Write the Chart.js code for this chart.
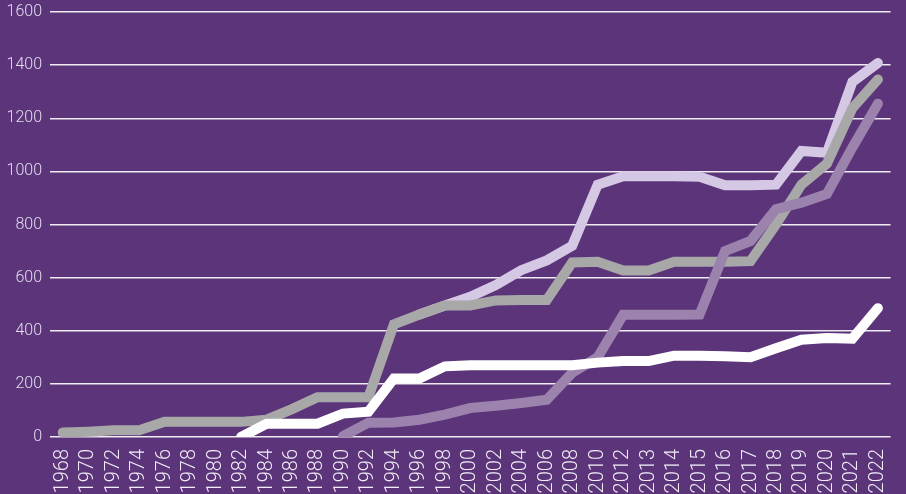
<!DOCTYPE html>
<html>
<head>
<meta charset="utf-8">
<script src="https://cdn.jsdelivr.net/npm/chart.js@4"></script>
<style>
  html, body { margin: 0; padding: 0; background: #5b3479; overflow: hidden; }
  #wrap { position: relative; width: 906px; height: 494px; }
</style>
</head>
<body>
<div id="wrap"><canvas id="chart"></canvas></div>
<script>
const years = ['1968', '1970', '1972', '1974', '1976', '1978', '1980', '1982', '1984', '1986', '1988', '1990',
  '1992', '1994', '1996', '1998', '2000', '2002', '2004', '2006', '2008', '2010', '2012', '2013', '2014',
  '2015', '2016', '2017', '2018', '2019', '2020', '2021', '2022'];

const lavender = [null, null, null, null, null, null, null, null, null, null, null, null,
  null, null, 461, 495, 528, 572, 628, 665, 720, 950, 982, 982, 982,
  980, 948, 948, 950, 1077, 1070, 1337, 1408];

const grey = [17, 20, 25, 25, 57, 57, 57, 57, 65, 105, 150, 150,
  150, 424, 461, 495, 495, 514, 516, 516, 657, 660, 627, 627, 660,
  660, 660, 662, 800, 950, 1029, 1238, 1346];

const mauve = [null, null, null, null, null, null, null, null, null, null, null, 3,
  54, 55, 65, 84, 109, 118, 128, 140, 242, 300, 460, 460, 460,
  461, 700, 738, 858, 882, 915, 1090, 1255];

const white = [null, null, null, null, null, null, null, 0, 50, 50, 50, 88,
  95, 220, 220, 266, 270, 270, 270, 270, 270, 280, 286, 286, 306,
  306, 304, 300, 334, 366, 373, 370, 485];

const yTicks = [0, 200, 400, 600, 800, 1000, 1200, 1400, 1600];

const font = '"Roboto", "Liberation Sans", sans-serif';

// higher order is drawn first, so it sits underneath
function line(data, color, order) {
  return {
    data,
    order,
    borderColor: color,
    backgroundColor: color,
    borderWidth: 10,
    borderCapStyle: 'round',
    borderJoinStyle: 'miter',
    pointRadius: 0,
    pointHoverRadius: 0,
    tension: 0,
    fill: false
  };
}

new Chart(document.getElementById('chart'), {
  type: 'line',
  data: {
    labels: years,
    datasets: [
      line(lavender, '#d4c8e4', 4),
      line(grey, '#a8a8a8', 3),
      line(mauve, '#9b83ad', 2),
      line(white, '#ffffff', 1)
    ]
  },
  options: {
    responsive: true,
    maintainAspectRatio: false,
    animation: false,
    layout: { padding: { top: 12, right: 8, left: 0, bottom: 0 } },
    plugins: { legend: { display: false }, tooltip: { enabled: false } },
    scales: {
      x: {
        offset: true,
        grid: { display: false },
        border: { display: false },
        ticks: {
          color: '#f1ecf6',
          font: { family: font, size: 20, weight: 300 },
          maxRotation: 90,
          minRotation: 90,
          autoSkip: false,
          padding: 4
        },
        afterFit: (scale) => { scale.height = 57; }
      },
      y: {
        min: 0,
        max: 1600,
        afterBuildTicks: (scale) => { scale.ticks = yTicks.map((value) => ({ value })); },
        grid: { color: 'rgba(255,255,255,0.9)', lineWidth: 1.5, drawTicks: false },
        border: { display: false },
        ticks: {
          color: '#e4dcee',
          font: { family: font, size: 16, weight: 300 },
          padding: 8,
          callback: (value) => String(value)
        },
        afterFit: (scale) => {
          scale.width = 50;
          scale.paddingTop = 0;
          scale.paddingBottom = 0;
        }
      }
    }
  }
});
</script>
</body>
</html>
